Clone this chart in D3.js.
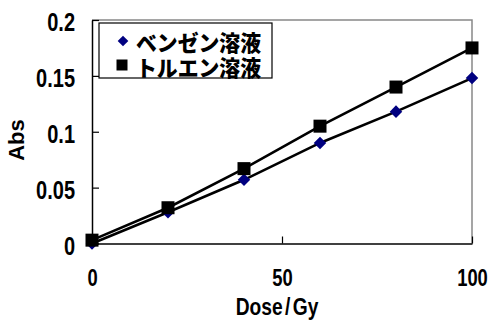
<!DOCTYPE html>
<html>
<head>
<meta charset="utf-8">
<script src="https://cdn.jsdelivr.net/npm/d3@7/dist/d3.min.js"></script>
<style>
  html, body { margin: 0; padding: 0; background: #fff; }
  svg { display: block; }
  .num { font-family: "Liberation Sans", Arial, sans-serif; font-weight: bold; }
  .jp { font-family: "Noto Sans CJK JP", sans-serif; font-weight: 900; }
</style>
</head>
<body>
<svg id="chart" width="490" height="320"></svg>
<script>
// Absorbance vs. absorbed dose for two irradiated solutions
const doses = [0, 20, 40, 60, 80, 100];
const benzene = [0, 0.028, 0.057, 0.090, 0.118, 0.148];
const toluene = [0.003, 0.032, 0.067, 0.105, 0.140, 0.175];
const seriesNames = ["ベンゼン溶液", "トルエン溶液"];
const xTicks = [0, 50, 100];
const yTicks = [0, 0.05, 0.1, 0.15, 0.2];
const yTickLabels = ["0", "0.05", "0.1", "0.15", "0.2"];
const xTitle = ["Dose", "/", "Gy"];
const yTitle = "Abs";

const svg = d3.select("#chart");
const plotLeft = 92, plotRight = 472, plotTop = 20, plotBottom = 243.5;
const narrow = 0.8; // horizontal squeeze for the condensed numeric face

const x = d3.scaleLinear().domain([0, 100]).range([plotLeft, plotRight]);
const y = d3.scaleLinear().domain([0, 0.2]).range([plotBottom, plotTop]);

// plot frame: grey top/right edges
svg.append("path")
  .attr("d", `M${plotLeft},${plotTop}H${plotRight}V${plotBottom}`)
  .attr("fill", "none").attr("stroke", "#888").attr("stroke-width", 1.5);

// axes with inward ticks
const yAxis = d3.axisLeft(y).tickValues(yTicks)
  .tickFormat((d, i) => yTickLabels[i]).tickSizeInner(-7).tickSizeOuter(0).tickPadding(17);
const gy = svg.append("g").attr("transform", `translate(${plotLeft},0)`).call(yAxis);

const xAxis = d3.axisBottom(x).tickValues(xTicks)
  .tickFormat(d3.format("d")).tickSizeInner(-7).tickSizeOuter(0).tickPadding(26.5);
const gx = svg.append("g").attr("transform", `translate(0,${plotBottom})`).call(xAxis);

[gx, gy].forEach(g => {
  g.select(".domain").attr("stroke", "#000").attr("stroke-width", 1.5);
  g.selectAll(".tick line").attr("stroke", "#000").attr("stroke-width", 1.2);
  g.selectAll(".tick text").attr("class", "num").attr("fill", "#000");
});
gy.selectAll(".tick text").attr("font-size", 25)
  .attr("x", -17 / narrow).attr("dy", "0.43em")
  .attr("transform", `scale(${narrow},1)`);
gx.selectAll(".tick text").attr("font-size", 23)
  .attr("transform", `scale(${narrow},1)`);

// axis titles
const xt = svg.append("text").attr("class", "num")
  .attr("transform", `translate(277,315) scale(${narrow},1)`)
  .attr("text-anchor", "middle").attr("font-size", 24);
xt.selectAll("tspan").data(xTitle).join("tspan")
  .attr("dx", (d, i) => i ? 3 : 0).text(d => d);
svg.append("text").attr("class", "num")
  .attr("transform", "translate(24,140) rotate(-90)").attr("text-anchor", "middle")
  .attr("font-size", 22).text(yTitle);

// series lines
const line = vals => d3.line().x((d, i) => x(doses[i])).y(d => y(d))(vals);
svg.append("path").attr("d", line(toluene)).attr("fill", "none")
  .attr("stroke", "#000").attr("stroke-width", 2.6);
svg.append("path").attr("d", line(benzene)).attr("fill", "none")
  .attr("stroke", "#000").attr("stroke-width", 2.6);

// markers
const diamond = d3.symbol().type(d3.symbolDiamond2).size(100);
svg.append("g").selectAll("path").data(benzene).join("path")
  .attr("d", diamond)
  .attr("transform", (d, i) => `translate(${x(doses[i])},${y(d)})`)
  .attr("fill", "#000080");
svg.append("g").selectAll("rect").data(toluene).join("rect")
  .attr("x", (d, i) => x(doses[i]) - 6.5).attr("y", d => y(d) - 6.5)
  .attr("width", 13).attr("height", 13).attr("fill", "#000");

// legend
const lg = svg.append("g");
lg.append("rect").attr("x", 99).attr("y", 23).attr("width", 173).attr("height", 55)
  .attr("fill", "#fff").attr("stroke", "#000").attr("stroke-width", 1.2);
lg.append("path").attr("d", d3.symbol().type(d3.symbolDiamond2).size(72))
  .attr("transform", "translate(123,41)").attr("fill", "#000080");
lg.append("rect").attr("x", 116.5).attr("y", 59.5).attr("width", 11).attr("height", 11).attr("fill", "#000");
lg.selectAll("text").data(seriesNames).join("text").attr("class", "jp")
  .attr("x", 136).attr("y", (d, i) => 41 + i * 24.5)
  .attr("dominant-baseline", "central").attr("font-size", 22)
  .attr("textLength", 125).attr("lengthAdjust", "spacingAndGlyphs").text(d => d);
</script>
</body>
</html>
